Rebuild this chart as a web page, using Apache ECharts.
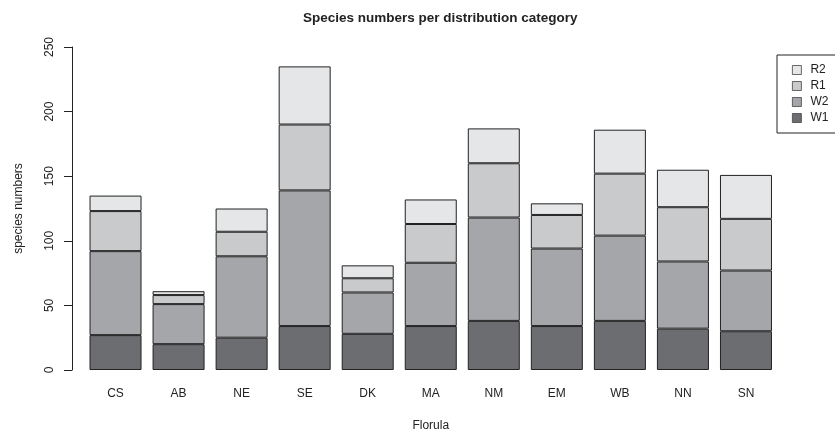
<!DOCTYPE html>
<html>
<head>
<meta charset="utf-8">
<script src="https://cdn.jsdelivr.net/npm/echarts@6/dist/echarts.min.js"></script>
<style>
html,body{margin:0;padding:0;background:#fff;overflow:hidden;}
#chart{width:835px;height:433px;}
</style>
</head>
<body>
<div id="chart"></div>
<script>
const categories = ['CS','AB','NE','SE','DK','MA','NM','EM','WB','NN','SN'];
const W1 = [27, 20, 25, 34, 28, 34, 38, 34, 38, 32, 30];
const W2 = [65, 31, 63, 105, 32, 49, 80, 60, 66, 52, 47];
const R1 = [31, 7, 19, 51, 11, 30, 42, 26, 48, 42, 40];
const R2 = [12, 3, 18, 45, 10, 19, 27, 9, 34, 29, 34];
const yTicks = [0, 50, 100, 150, 200, 250];

const seriesNames = ['W1','W2','R1','R2'];
const seriesData = [W1, W2, R1, R2];
const colors = ['#6c6d71', '#a5a6aa', '#c9cacc', '#e5e6e8'];
const font = 'Liberation Sans, Arial, Helvetica, sans-serif';

const chart = echarts.init(document.getElementById('chart'), null, {renderer: 'canvas'});
chart.setOption({
  animation: false,
  backgroundColor: '#fff',
  title: {
    text: 'Species numbers per distribution category',
    left: 298, top: 6,
    textStyle: {fontFamily: font, fontSize: 13.5, fontWeight: 'bold', color: '#222'}
  },
  legend: {
    orient: 'vertical',
    left: 777, top: 55,
    data: ['R2','R1','W2','W1'],
    icon: 'rect',
    itemWidth: 9, itemHeight: 9, itemGap: 4,
    padding: [9, 30, 9, 15],
    borderColor: '#222', borderWidth: 1,
    itemStyle: {borderWidth: 0.8, borderColor: '#444'},
    textStyle: {fontFamily: font, fontSize: 12, color: '#222', padding: [0,0,0,4]}
  },
  grid: {left: 84, right: 57.5, top: 47, bottom: 63, containLabel: false, outerBoundsMode: 'none'},
  xAxis: {
    type: 'category',
    data: categories,
    axisLine: {show: false},
    axisTick: {show: false},
    axisLabel: {fontFamily: font, fontSize: 12, color: '#222', margin: 18},
    name: 'Florula',
    nameLocation: 'middle',
    nameGap: 50,
    nameTextStyle: {fontFamily: font, fontSize: 12, color: '#222'}
  },
  yAxis: {
    type: 'value',
    min: yTicks[0], max: yTicks[yTicks.length-1], interval: 50,
    offset: 12,
    axisLine: {show: true, lineStyle: {color: '#222', width: 1}},
    axisTick: {show: true, length: 8, lineStyle: {color: '#222'}},
    splitLine: {show: false},
    axisLabel: {fontFamily: font, fontSize: 12, color: '#222', rotate: 90, margin: 16},
    name: 'species numbers',
    nameLocation: 'middle',
    nameGap: 47,
    nameTextStyle: {fontFamily: font, fontSize: 12, color: '#222'}
  },
  series: seriesNames.map((n, i) => ({
    name: n,
    type: 'bar',
    stack: 'total',
    data: seriesData[i],
    barWidth: 52,
    itemStyle: {color: colors[i], borderColor: '#222', borderWidth: 1}
  }))
});
</script>
</body>
</html>
